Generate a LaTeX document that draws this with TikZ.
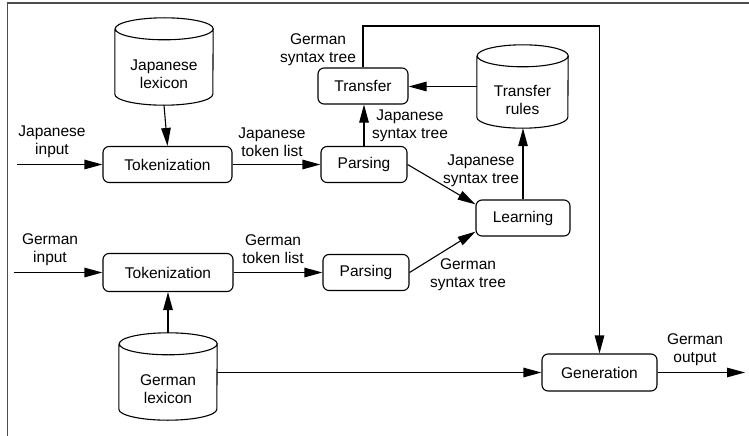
\documentclass[tikz,border=0pt]{standalone}
\usepackage{fontspec}
\setmainfont{Liberation Sans}
\usetikzlibrary{arrows.meta}

% drum-shaped store drawn around an empty frame node: #1 = node name, #2 = half width (pt)
\newcommand\dbcyl[2]{%
  \draw[boxline] ([yshift=-11pt]#1.north west) -- ([yshift=11pt]#1.south west)
    arc[start angle=180,end angle=360,x radius=#2pt,y radius=11pt]
    -- ([yshift=-11pt]#1.north east)
    arc[start angle=0,end angle=180,x radius=#2pt,y radius=11pt]
    arc[start angle=180,end angle=360,x radius=#2pt,y radius=11pt];}

\begin{document}
\begin{tikzpicture}[x=1pt,y=-1pt,
  every node/.style={font=\fontsize{15.5}{18}\selectfont},
  boxline/.style={line width=1.1pt},
  procbox/.style={boxline,draw,rounded corners=6pt,inner sep=0pt},
  cylframe/.style={inner sep=0pt},
  lbl/.style={align=center,inner sep=0pt},
  flow/.style={line width=1.1pt,-{Triangle[length=18pt,width=9.5pt]}}]

\useasboundingbox (0,0) rectangle (749,436);
\draw[line width=1.5pt,black!70] (7.5,436) -- (7.5,3) -- (749,3);

% stores
\node[cylframe,minimum width=98pt,minimum height=87pt] (jlex) at (164,61.5) {};
\dbcyl{jlex}{49}
\node[lbl] (jlextxt) at ([yshift=-13pt]jlex.center) {Japanese\\lexicon};

\node[cylframe,minimum width=91pt,minimum height=83pt] (trules) at (522.5,86.5) {};
\dbcyl{trules}{45.5}
\node[lbl] (trulestxt) at ([yshift=-13pt]trules.center) {Transfer\\rules};

\node[cylframe,minimum width=98pt,minimum height=87pt] (glex) at (168,376.5) {};
\dbcyl{glex}{49}
\node[lbl] (glextxt) at ([yshift=-13pt]glex.center) {German\\lexicon};

% processing steps
\node[procbox,minimum width=129pt,minimum height=36pt] (jtok) at (167.5,164.5) {Tokenization};
\node[procbox,minimum width=86pt,minimum height=36pt] (jpar) at (364,164.5) {Parsing};
\node[procbox,minimum width=90pt,minimum height=36pt] (trans) at (363,86) {Transfer};
\node[procbox,minimum width=94pt,minimum height=36pt] (learn) at (523,218) {Learning};
\node[procbox,minimum width=130pt,minimum height=38pt] (gtok) at (168,272.5) {Tokenization};
\node[procbox,minimum width=86pt,minimum height=36pt] (gpar) at (366,272.5) {Parsing};
\node[procbox,minimum width=115pt,minimum height=37pt] (gen) at (599.5,372.5) {Generation};

% free ends
\coordinate (jin) at (17,164.5);
\coordinate (gin) at (14,272.5);
\coordinate (gout) at (745,372.5);
\coordinate (bend) at (599.5,26);

% connectors
\draw[flow] (jin) -- (jtok);
\draw[flow] (jlex.south) -- (jtok.north);
\draw[flow] (jtok) -- (jpar);
\draw[flow] (jpar.north) -- (jpar.north |- trans.south);
\draw[flow] (trules.west) -- (trules.west -| trans.east);
\draw[flow] (jpar.east) -- (learn.164);
\draw[flow] (learn.north) -- (learn.north |- trules.south);
\draw[flow] (gin) -- (gtok);
\draw[flow] (glex.north) -- (gtok.south);
\draw[flow] (gtok) -- (gpar);
\draw[flow] (gpar.east) -- (learn.196);
\draw[flow] (trans.north) |- (bend) -- (gen.north);
\draw[flow] (glex.east |- gen.west) -- (gen.west);
\draw[flow] (gen) -- (gout);

% connector labels
\node[lbl] (l1) at (52,142) {Japanese\\input};
\node[lbl] (l2) at (272,142) {Japanese\\token list};
\node[lbl] (l3) at (318,49.5) {German\\syntax tree};
\node[lbl] (l4) at (410,126) {Japanese\\syntax tree};
\node[lbl] (l5) at (481,170.5) {Japanese\\syntax tree};
\node[lbl] (l6) at (50,249.5) {German\\input};
\node[lbl] (l7) at (273,249.5) {German\\token list};
\node[lbl] (l8) at (468,275) {German\\syntax tree};
\node[lbl] (l9) at (695,350) {German\\output};
\end{tikzpicture}
\end{document}
